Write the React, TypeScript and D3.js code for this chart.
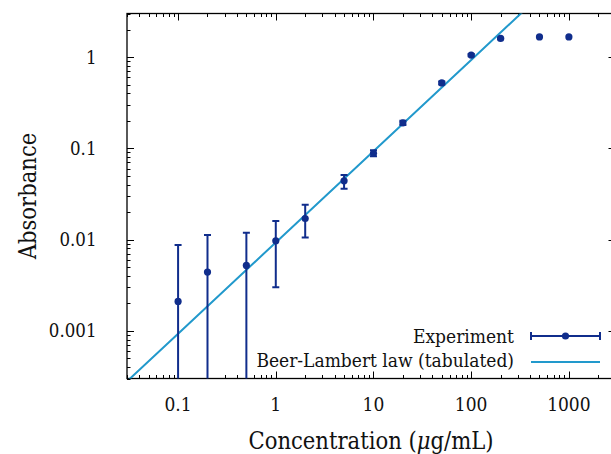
import React, { useEffect, useRef } from "react";
import * as d3 from "d3";

// measured concentrations (ug/mL) and absorbances
const conc = [0.1, 0.2, 0.5, 1, 2, 5, 10, 20, 50, 100, 200, 500, 1000];
const absorb = [0.0021, 0.0044, 0.0052, 0.0097, 0.017, 0.044, 0.088, 0.19, 0.52, 1.05, 1.6, 1.66, 1.66];
const errLow = [0.0001, 0.0001, 0.0001, 0.003, 0.0105, 0.036, 0.082, 0.18, 0.5, 1.02, 1.57, null, null];
const errHigh = [0.0087, 0.0112, 0.0119, 0.016, 0.024, 0.051, 0.095, 0.2, 0.54, 1.08, 1.63, null, null];

// Beer-Lambert law, tabulated
const blConc = [0.01, 0.1, 1, 10, 100, 1000, 10000];
const blAbs = [0.000093, 0.00093, 0.0093, 0.093, 0.93, 9.3, 93];

const xTicks = [0.1, 1, 10, 100, 1000];
const xTickLabels = ["0.1", "1", "10", "100", "1000"];
const yTicks = [0.001, 0.01, 0.1, 1];
const yTickLabels = ["0.001", "0.01", "0.1", "1"];

const navy = "#102d8c";
const cyan = "#2299cc";
const font = "'DejaVu Serif Condensed', 'DejaVu Serif'";

const App = () => {
  const svgRef = useRef(null);

  useEffect(() => {
    const W = 611, H = 454;
    const margin = { top: 13.5, left: 127, width: 488.5, height: 365 };
    const svg = d3.select(svgRef.current);
    svg.selectAll("*").remove();

    const x = d3.scaleLog().domain([0.03, 3000]).range([margin.left, margin.left + margin.width]);
    const y = d3.scaleLog().domain([0.0003, 3]).range([margin.top + margin.height, margin.top]);
    const x0 = margin.left, x1 = margin.left + margin.width;
    const y0 = margin.top + margin.height, y1 = margin.top;

    const txt = (sel, size) =>
      sel.attr("font-family", font).attr("font-stretch", "condensed").attr("font-size", size).attr("fill", "#111");

    svg.append("defs").append("clipPath").attr("id", "clip")
      .append("rect").attr("x", x0).attr("y", y1).attr("width", margin.width).attr("height", margin.height);

    // minor + major ticks, mirrored, pointing inward
    const tickG = svg.append("g").attr("stroke", "#000").attr("stroke-width", 1);
    const minorX = [];
    for (let e = -2; e <= 3; e++) for (let m = 1; m <= 9; m++) {
      const v = m * Math.pow(10, e);
      if (v >= 0.03 && v <= 3000) minorX.push(v);
    }
    minorX.forEach((v) => {
      const major = xTicks.includes(v);
      const len = major ? 7 : 3.5;
      const px = Math.round(x(v)) + 0.5;
      tickG.append("line").attr("x1", px).attr("x2", px).attr("y1", y0).attr("y2", y0 - len);
      tickG.append("line").attr("x1", px).attr("x2", px).attr("y1", y1).attr("y2", y1 + len);
    });
    const minorY = [];
    for (let e = -4; e <= 0; e++) for (let m = 1; m <= 9; m++) {
      const v = m * Math.pow(10, e);
      if (v >= 0.0003 && v <= 3) minorY.push(v);
    }
    minorY.forEach((v) => {
      const major = yTicks.some((t) => Math.abs(t - v) < 1e-12);
      const len = major ? 7 : 3.5;
      const py = Math.round(y(v)) + 0.5;
      tickG.append("line").attr("x1", x0).attr("x2", x0 + len).attr("y1", py).attr("y2", py);
      tickG.append("line").attr("x1", x1).attr("x2", x1 - len).attr("y1", py).attr("y2", py);
    });

    // frame
    svg.append("rect").attr("x", x0).attr("y", y1).attr("width", margin.width).attr("height", margin.height)
      .attr("fill", "none").attr("stroke", "#000").attr("stroke-width", 1.3);

    // tick labels
    xTicks.forEach((v, i) => {
      svg.append("text").attr("x", x(v)).attr("y", 411).attr("text-anchor", "middle")
        .call(txt, 19).text(xTickLabels[i]);
    });
    yTicks.forEach((v, i) => {
      svg.append("text").attr("x", 96.5).attr("y", y(v)).attr("dy", "0.36em").attr("text-anchor", "end")
        .call(txt, 18.5).text(yTickLabels[i]);
    });

    // axis titles
    svg.append("text").attr("x", 371).attr("y", 449).attr("text-anchor", "middle")
      .call(txt, 23.5)
      .text("Concentration (")
      .call((t) => {
        t.append("tspan").attr("font-style", "italic").text("μ");
        t.append("tspan").text("g/mL)");
      });
    svg.append("text").attr("transform", "translate(36,196) rotate(-90)").attr("text-anchor", "middle")
      .call(txt, 23.5).text("Absorbance");

    const plot = svg.append("g").attr("clip-path", "url(#clip)");

    // Beer-Lambert line
    const line = d3.line().x((d) => x(d[0])).y((d) => y(d[1]));
    plot.append("path").datum(blConc.map((c, i) => [c, blAbs[i]]))
      .attr("d", line).attr("fill", "none").attr("stroke", cyan).attr("stroke-width", 2);

    // experiment error bars + dots
    conc.forEach((c, i) => {
      const px = x(c);
      if (errLow[i] != null) {
        plot.append("line").attr("x1", px).attr("x2", px).attr("y1", y(errLow[i])).attr("y2", y(errHigh[i]))
          .attr("stroke", navy).attr("stroke-width", 2);
        [errLow[i], errHigh[i]].forEach((v) => {
          plot.append("line").attr("x1", px - 3.5).attr("x2", px + 3.5).attr("y1", y(v)).attr("y2", y(v))
            .attr("stroke", navy).attr("stroke-width", 2);
        });
      }
      plot.append("circle").attr("cx", px).attr("cy", y(absorb[i])).attr("r", 3.6).attr("fill", navy);
    });

    // legend
    const leg = svg.append("g");
    leg.append("text").attr("x", 514).attr("y", 343).attr("text-anchor", "end")
      .call(txt, 19).text("Experiment");
    leg.append("line").attr("x1", 531).attr("x2", 600).attr("y1", 336).attr("y2", 336).attr("stroke", navy).attr("stroke-width", 2);
    [531, 600].forEach((lx) => leg.append("line").attr("x1", lx).attr("x2", lx).attr("y1", 332).attr("y2", 340).attr("stroke", navy).attr("stroke-width", 2));
    leg.append("circle").attr("cx", 565.5).attr("cy", 336).attr("r", 3.6).attr("fill", navy);
    leg.append("text").attr("x", 514).attr("y", 367).attr("text-anchor", "end")
      .call(txt, 19).text("Beer-Lambert law (tabulated)");
    leg.append("line").attr("x1", 531).attr("x2", 600).attr("y1", 362).attr("y2", 362).attr("stroke", cyan).attr("stroke-width", 2);

    svg.attr("width", W).attr("height", H);
  }, []);

  return (
    <svg ref={svgRef} style={{ position: "absolute", left: 0, top: 0 }}></svg>
  );
};

export default App;
